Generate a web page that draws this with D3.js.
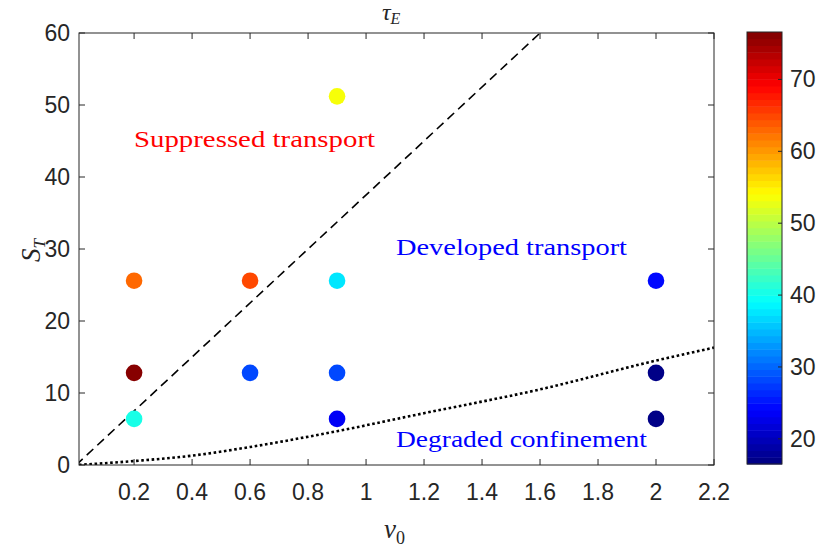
<!DOCTYPE html>
<html>
<head>
<meta charset="utf-8">
<script src="https://cdn.jsdelivr.net/npm/d3@7"></script>
<style>
  body { margin: 0; background: #fff; }
</style>
</head>
<body>
<svg id="chart" width="816" height="550"></svg>
<script>
// scatter points: nu0, S_T, tau_E (colour)
const nu0 = [0.2, 0.2, 0.2, 0.6, 0.6, 0.9, 0.9, 0.9, 0.9, 2, 2, 2];
const sT = [25.6, 12.8, 6.4, 25.6, 12.8, 51.2, 25.6, 12.8, 6.4, 25.6, 12.8, 6.4];
const tauE = [63.1, 76.6, 40.8, 65.1, 28.5, 53.7, 37.5, 27.8, 24.0, 24.3, 17.4, 17.0];

// boundary curves
const dashedLine = [[0, 0], [1.6, 60]];
const dottedCurve = [[0.01, 0.02], [0.2, 0.55], [0.4, 1.3], [0.6, 2.5], [0.9, 4.7],
                     [1.2, 7.2], [1.6, 10.5], [2.0, 14.5], [2.2, 16.3]];

const xTicks = [0.2, 0.4, 0.6, 0.8, 1, 1.2, 1.4, 1.6, 1.8, 2, 2.2];
const yTicks = [0, 10, 20, 30, 40, 50, 60];
const cTicks = [20, 30, 40, 50, 60, 70];
const cRange = [16.5, 76.6];

const svg = d3.select("#chart");
const axisColor = "#262626";
const sans = "'Liberation Sans', Arial, Helvetica, sans-serif";
const serif = "'Liberation Serif', 'DejaVu Serif', 'Times New Roman', serif";

// plot box
const plot = { left: 79, right: 714, top: 33, bottom: 465 };

const x = d3.scaleLinear().domain([0.01, 2.2]).range([plot.left, plot.right]);
const y = d3.scaleLinear().domain([0, 60]).range([plot.bottom, plot.top]);

// MATLAB style jet colormap, 64 steps
function jet(t) {
    const c = v => Math.max(0, Math.min(1, v));
    const r = c(1.5 - Math.abs(4 * t - 3));
    const g = c(1.5 - Math.abs(4 * t - 2));
    const b = c(1.5 - Math.abs(4 * t - 1));
    return d3.rgb(r * 255, g * 255, b * 255).formatHex();
}
const nLevels = 64;
const colorOf = v => {
    let t = (v - cRange[0]) / (cRange[1] - cRange[0]);
    t = Math.max(0, Math.min(1, t));
    const k = Math.min(nLevels - 1, Math.floor(t * nLevels));
    return jet((k + 0.5) / nLevels);
};

svg.append("defs").append("clipPath").attr("id", "plotClip")
    .append("rect")
    .attr("x", plot.left).attr("y", plot.top)
    .attr("width", plot.right - plot.left).attr("height", plot.bottom - plot.top);

// ticks, inside on all four sides
const tickLen = 6;
const g = svg.append("g").attr("stroke", axisColor).attr("stroke-width", 1);
xTicks.forEach(t => {
    g.append("line").attr("x1", x(t)).attr("x2", x(t))
        .attr("y1", plot.bottom).attr("y2", plot.bottom - tickLen);
    g.append("line").attr("x1", x(t)).attr("x2", x(t))
        .attr("y1", plot.top).attr("y2", plot.top + tickLen);
});
yTicks.forEach(t => {
    g.append("line").attr("x1", plot.left).attr("x2", plot.left + tickLen)
        .attr("y1", y(t)).attr("y2", y(t));
    g.append("line").attr("x1", plot.right).attr("x2", plot.right - tickLen)
        .attr("y1", y(t)).attr("y2", y(t));
});

svg.selectAll("text.xtick").data(xTicks).enter().append("text")
    .attr("class", "xtick")
    .attr("x", d => x(d)).attr("y", 500)
    .attr("text-anchor", "middle")
    .style("font-family", sans).style("font-size", "23px")
    .attr("fill", axisColor)
    .text(d => d3.format("")(d));

svg.selectAll("text.ytick").data(yTicks).enter().append("text")
    .attr("class", "ytick")
    .attr("x", 70).attr("y", d => y(d) + 8)
    .attr("text-anchor", "end")
    .style("font-family", sans).style("font-size", "23px")
    .attr("fill", axisColor)
    .text(d => d);

// boundary lines
const line = d3.line().x(d => x(d[0])).y(d => y(d[1]));
const curve = d3.line().x(d => x(d[0])).y(d => y(d[1])).curve(d3.curveMonotoneX);

svg.append("path")
    .attr("d", line(dashedLine))
    .attr("clip-path", "url(#plotClip)")
    .attr("fill", "none").attr("stroke", "#000")
    .attr("stroke-width", 1.6).attr("stroke-dasharray", "9 5.5");

svg.append("path")
    .attr("d", curve(dottedCurve))
    .attr("clip-path", "url(#plotClip)")
    .attr("fill", "none").attr("stroke", "#000")
    .attr("stroke-width", 2.6).attr("stroke-dasharray", "2.6 2.6");

// scatter
svg.selectAll("circle.pt").data(d3.range(nu0.length)).enter().append("circle")
    .attr("class", "pt")
    .attr("cx", i => x(nu0[i]))
    .attr("cy", i => y(sT[i]))
    .attr("r", 8.3)
    .attr("fill", i => colorOf(tauE[i]));

// box outline on top
svg.append("rect")
    .attr("x", plot.left).attr("y", plot.top)
    .attr("width", plot.right - plot.left).attr("height", plot.bottom - plot.top)
    .attr("fill", "none").attr("stroke", axisColor).attr("stroke-width", 1);

// region annotations
const notes = [
    { text: "Suppressed transport", x: 134, y: 147, w: 241, color: "#ff0000" },
    { text: "Developed transport", x: 396, y: 255, w: 231, color: "#0000ff" },
    { text: "Degraded confinement", x: 396, y: 447, w: 251, color: "#0000ff" }
];
notes.forEach(n => {
    svg.append("text")
        .attr("x", n.x).attr("y", n.y)
        .style("font-family", serif).style("font-size", "23px")
        .attr("fill", n.color)
        .attr("textLength", n.w).attr("lengthAdjust", "spacingAndGlyphs")
        .text(n.text);
});

// axis labels (LaTeX style)
const title = svg.append("text")
    .attr("x", 382).attr("y", 20)
    .style("font-family", serif).style("font-size", "24px").style("font-style", "italic")
    .attr("fill", axisColor);
title.append("tspan").text("τ");
title.append("tspan").style("font-size", "16px").attr("dy", 4).text("E");

const xl = svg.append("text")
    .attr("x", 384).attr("y", 538)
    .style("font-family", serif).style("font-size", "27px").style("font-style", "italic")
    .attr("fill", axisColor);
xl.append("tspan").text("ν");
xl.append("tspan").style("font-size", "18px").style("font-style", "normal").attr("dy", 6).text("0");

const yl = svg.append("text")
    .attr("transform", "translate(40,262) rotate(-90)")
    .style("font-family", serif).style("font-size", "27px").style("font-style", "italic")
    .attr("fill", axisColor);
yl.append("tspan").text("S");
yl.append("tspan").style("font-size", "17px").attr("dy", 5).text("T");

// colorbar
const cb = { left: 747, right: 782, top: 32, bottom: 464 };
const cy = d3.scaleLinear().domain(cRange).range([cb.bottom, cb.top]);
const stepH = (cb.bottom - cb.top) / nLevels;
svg.selectAll("rect.cb").data(d3.range(nLevels)).enter().append("rect")
    .attr("class", "cb")
    .attr("x", cb.left)
    .attr("y", k => cb.bottom - (k + 1) * stepH)
    .attr("width", cb.right - cb.left)
    .attr("height", stepH + 0.5)
    .attr("fill", k => jet((k + 0.5) / nLevels));
svg.append("rect")
    .attr("x", cb.left).attr("y", cb.top)
    .attr("width", cb.right - cb.left).attr("height", cb.bottom - cb.top)
    .attr("fill", "none").attr("stroke", axisColor).attr("stroke-width", 1);
cTicks.forEach(t => {
    svg.append("line")
        .attr("x1", cb.right).attr("x2", cb.right - 4)
        .attr("y1", cy(t)).attr("y2", cy(t))
        .attr("stroke", axisColor);
    svg.append("text")
        .attr("x", 790).attr("y", cy(t) + 8)
        .style("font-family", sans).style("font-size", "23px")
        .attr("fill", axisColor)
        .text(t);
});
</script>
</body>
</html>
